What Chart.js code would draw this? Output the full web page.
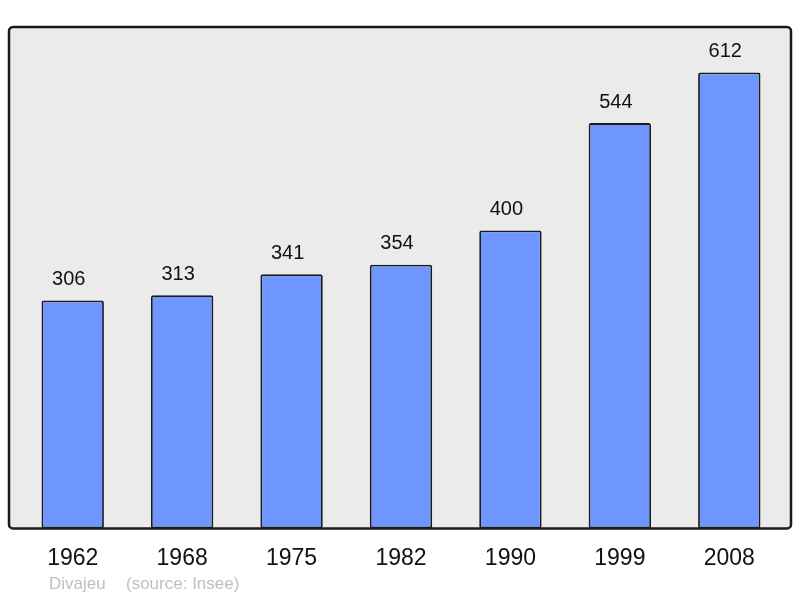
<!DOCTYPE html>
<html>
<head>
<meta charset="utf-8">
<script src="https://cdn.jsdelivr.net/npm/chart.js@4"></script>
<style>
  html, body { margin: 0; padding: 0; background: #fff; }
  #wrap { width: 800px; height: 598px; }
</style>
</head>
<body>
<div id="wrap"><canvas id="chart" width="800" height="598"></canvas></div>
<script>
const years = ["1962", "1968", "1975", "1982", "1990", "1999", "2008"];
const population = [306, 313, 341, 354, 400, 544, 612];

// grey frame behind the bars, value labels and footer
const decor = {
  id: 'decor',
  beforeDatasetsDraw(chart) {
    const { ctx, chartArea } = chart;
    const x0 = chartArea.left - 9, x1 = chartArea.right + 7;
    const y0 = chartArea.top, y1 = chartArea.bottom;
    ctx.save();
    ctx.beginPath();
    ctx.roundRect(x0, y0, x1 - x0, y1 - y0, 4);
    ctx.fillStyle = '#ebebeb';
    ctx.fill();
    ctx.restore();
  },
  afterDatasetsDraw(chart) {
    const { ctx, chartArea } = chart;
    const x0 = chartArea.left - 9, x1 = chartArea.right + 7;
    const y0 = chartArea.top, y1 = chartArea.bottom;
    ctx.save();
    ctx.beginPath();
    ctx.roundRect(x0, y0, x1 - x0, y1 - y0, 4);
    ctx.lineWidth = 2.5;
    ctx.strokeStyle = '#1a1a1a';
    ctx.stroke();

    ctx.fillStyle = '#111';
    ctx.font = '20px "Liberation Sans", Arial, sans-serif';
    ctx.textAlign = 'center';
    ctx.textBaseline = 'middle';
    chart.getDatasetMeta(0).data.forEach((bar, i) => {
      ctx.fillText(population[i], bar.x - 4, bar.y - 21);
    });

    ctx.fillStyle = '#c0c0c0';
    ctx.font = '17px "Liberation Sans", Arial, sans-serif';
    ctx.textAlign = 'left';
    ctx.fillText('Divajeu', 49, 584);
    ctx.fillText('(source: Insee)', 126, 584);
    ctx.restore();
  }
};

new Chart(document.getElementById('chart'), {
  type: 'bar',
  data: {
    labels: years,
    datasets: [{
      data: population,
      backgroundColor: '#6f96ff',
      borderColor: '#1a1a1a',
      borderWidth: 1.8,
      borderRadius: 2,
      borderSkipped: false,
      barPercentage: 0.57,
      categoryPercentage: 1
    }]
  },
  options: {
    responsive: false,
    animation: false,
    layout: { padding: { left: 18, right: 16, top: 27, bottom: 18 } },
    plugins: { legend: { display: false }, tooltip: { enabled: false } },
    scales: {
      x: {
        grid: { display: false },
        border: { display: false },
        ticks: {
          color: '#111',
          padding: 8,
          font: { size: 23, family: '"Liberation Sans", Arial, sans-serif' }
        }
      },
      y: {
        display: false,
        min: 0,
        max: 673
      }
    }
  },
  plugins: [decor]
});
</script>
</body>
</html>
